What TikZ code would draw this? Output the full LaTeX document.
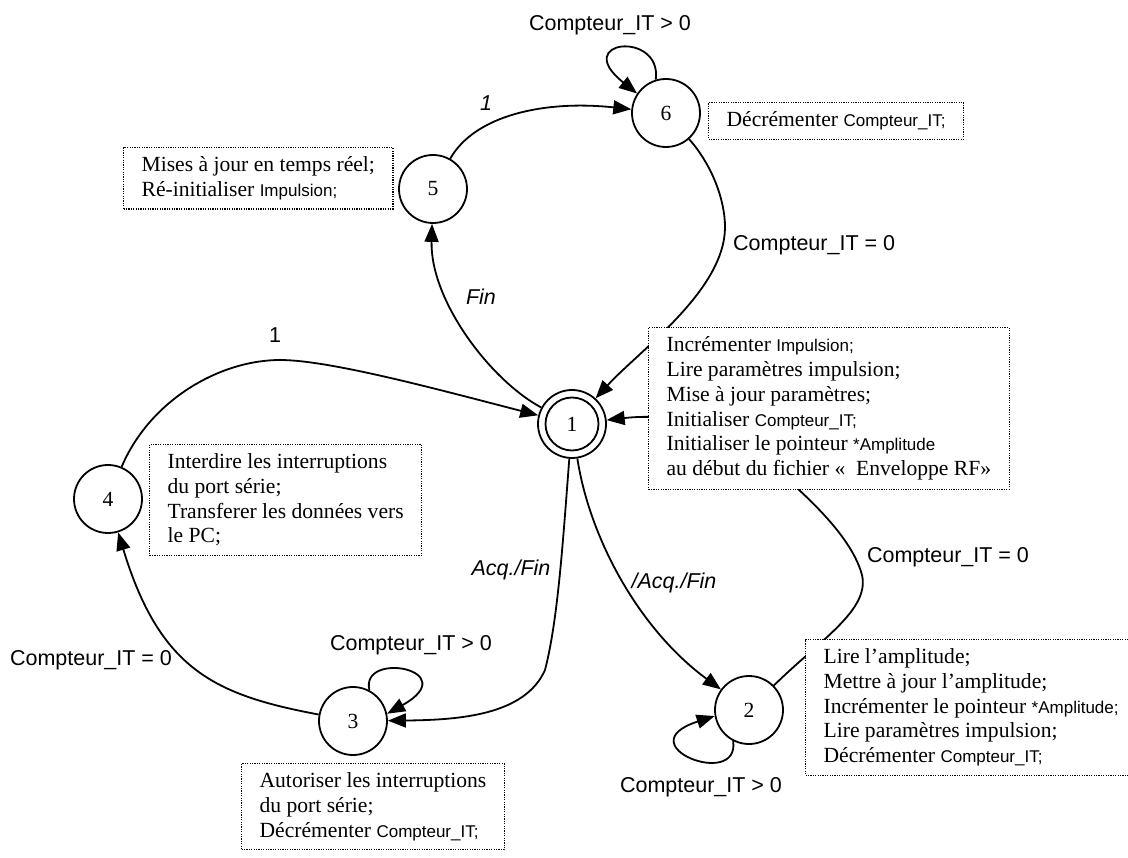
\documentclass[tikz,border=0pt]{standalone}
\usepackage{fontspec}
\setmainfont{Liberation Serif}
\setsansfont{Liberation Sans}
\usetikzlibrary{arrows.meta}
\newcommand\smsans[1]{{\fontsize{17}{24.8}\selectfont\sffamily #1}}
\tikzset{
 state/.style={circle, draw, line width=1.8pt, minimum size=68pt, inner sep=0pt, font=\fontsize{21.6}{24.8}\selectfont},
 innerstate/.style={circle, draw, line width=1.8pt, minimum size=53pt, inner sep=0pt, font=\fontsize{21.6}{24.8}\selectfont},
 arr/.style={line width=1.8pt, -{Triangle[length=18pt,width=14pt]}},
 box/.style={draw, fill=white, line width=1.2pt, dash pattern=on 1.2pt off 1.2pt, anchor=north west, align=left, inner xsep=18pt, inner ysep=9pt, font=\fontsize{21.6}{24.8}\selectfont},
 lbl/.style={font=\fontsize{21.5}{24}\selectfont\sffamily, inner sep=0pt},
 ilbl/.style={font={\fontsize{21.5}{24}\selectfont\sffamily\itshape}, inner sep=0pt}
}
\begin{document}
\begin{tikzpicture}[x=1pt,y=-1pt]
\useasboundingbox (0,0) rectangle (1128,858);
% states
\node[state] (n6) at (666,113) {6};
\node[state] (n5) at (433,189) {5};
\node[state] (n1) at (572,424) {};
\node[innerstate] (n1i) at (n1) {1};
\node[state] (n4) at (108,499) {4};
\node[state] (n3) at (353,721) {3};
\node[state] (n2) at (749,710) {2};
% transitions
\draw[arr] (n5) .. controls (475,115) and (545,100) .. (n6);
\draw[arr] (n6.107) .. controls (662,30) and (570,40) .. (n6.146);
\draw[arr] (n6) .. controls (712,165) and (725,200) .. (725,227) .. controls (725,290) and (640,350) .. (n1);
\draw[arr] (n1) .. controls (490,380) and (430,300) .. (n5);
\draw[arr] (n4) .. controls (150,400) and (220,360) .. (280,360) .. controls (330,360) and (440,390) .. (n1);
\draw[arr] (n1) .. controls (563,540) and (558,620) .. (545,670) .. controls (525,715) and (460,720) .. (n3);
\draw[arr] (n3.62) .. controls (360,650) and (465,670) .. (n3.12);
\draw[arr] (n3) .. controls (215,695) and (160,670) .. (n4);
\draw[arr] (n1) .. controls (590,540) and (640,630) .. (n2);
\draw[arr] (n2.243) .. controls (740,790) and (625,745) .. (n2.190);
\draw[arr] (n2) .. controls (820,640) and (870,610) .. (862,575) .. controls (850,530) and (790,480) .. (740,440) .. controls (700,420) and (660,414) .. (n1);
% labels
\node[lbl] (l6) at (610,25) {Compteur\_IT > 0};
\node[ilbl] (l56) at (486,103) {1};
\node[lbl, anchor=west] (l61) at (733,245) {Compteur\_IT = 0};
\node[ilbl] (lfin) at (481,297) {Fin};
\node[lbl] (l41) at (275,335) {1};
\node[ilbl] (lacq) at (511,570) {Acq./Fin};
\node[ilbl] (lnacq) at (674,583) {/Acq./Fin};
\node[lbl] (l3) at (411,645) {Compteur\_IT > 0};
\node[lbl] (l34) at (91,660) {Compteur\_IT = 0};
\node[lbl] (l2) at (701,787) {Compteur\_IT > 0};
\node[lbl] (l21) at (948,557) {Compteur\_IT = 0};
% action boxes
\node[box] (b6) at (708,102) {Décrémenter \smsans{Compteur\_IT;}};
\node[box] (b5) at (123,147) {Mises à jour en temps réel;\\Ré-initialiser \smsans{Impulsion;}};
\node[box] (b1) at (648,327) {Incrémenter \smsans{Impulsion;}\\Lire paramètres impulsion;\\Mise à jour paramètres;\\Initialiser \smsans{Compteur\_IT;}\\Initialiser le pointeur \smsans{*Amplitude}\\au début du fichier «\ \ Enveloppe RF»};
\node[box] (b4) at (149,444) {Interdire les interruptions\\du port série;\\Transferer les données vers\\le PC;};
\node[box] (b3) at (241,763) {Autoriser les interruptions\\du port série;\\Décrémenter \smsans{Compteur\_IT;}};
\node[box] (b2) at (805,639) {Lire l’amplitude;\\Mettre à jour l’amplitude;\\Incrémenter le pointeur \smsans{*Amplitude;}\\Lire paramètres impulsion;\\Décrémenter \smsans{Compteur\_IT;}};
\end{tikzpicture}
\end{document}
